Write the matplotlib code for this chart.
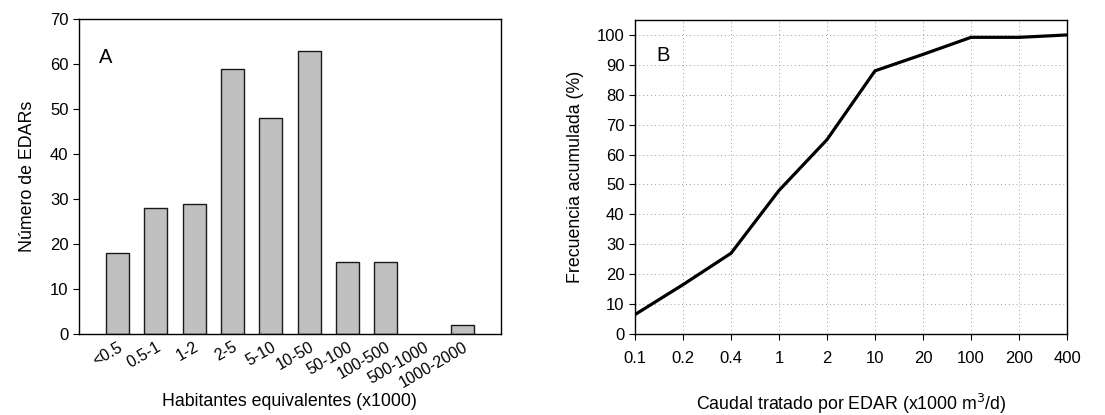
import matplotlib.pyplot as plt
import matplotlib.transforms as mtransforms
import numpy as np

plt.rcParams['font.family'] = ['Liberation Sans', 'DejaVu Sans']

# panel A
hab_labels = ["<0.5", "0.5-1", "1-2", "2-5", "5-10", "10-50", "50-100",
              "100-500", "500-1000", "1000-2000"]
n_edar = [18, 28, 29, 59, 48, 63, 16, 16, 0, 2]

# panel B
caudal_labels = ["0.1", "0.2", "0.4", "1", "2", "10", "20", "100", "200", "400"]
frec_acum = [6.5, 16.5, 27, 48, 65, 88, 93.5, 99.2, 99.2, 100]

fig = plt.figure(figsize=(11.05, 4.15), dpi=100)
W, H = 1105, 415

axA = fig.add_axes([79 / W, 1 - 334 / H, (500.7 - 79) / W, (334 - 19) / H])
x = np.arange(len(hab_labels))
vals = np.array(n_edar)
keep = vals > 0  # empty class is not drawn
axA.bar(x[keep], vals[keep], width=0.6, color="#c0c0c0", edgecolor="#1a1a1a", linewidth=1.0)
axA.set_xlim(-1, 10)
axA.set_ylim(0, 70)
axA.set_yticks(range(0, 71, 10))
axA.set_xticks(x)
axA.set_xticklabels(hab_labels, rotation=30, ha="right", rotation_mode="anchor")
offset = mtransforms.ScaledTranslation(8 / 72, 0, fig.dpi_scale_trans)
for lab in axA.get_xticklabels():
    lab.set_transform(lab.get_transform() + offset)
axA.tick_params(axis="x", length=0, pad=4, labelsize=11.5)
axA.tick_params(axis="y", direction="out", length=4, labelsize=12)
axA.set_ylabel("Número de EDARs", fontsize=12.8, labelpad=10)
axA.set_xlabel("Habitantes equivalentes (x1000)", fontsize=12.8, labelpad=2)
axA.text(0.047, 0.86, "A", transform=axA.transAxes, fontsize=14.5)
for s in axA.spines.values():
    s.set_linewidth(1.0)

axB = fig.add_axes([635 / W, 1 - 334 / H, (1067 - 635) / W, (334 - 20) / H])
xb = np.arange(len(caudal_labels))
axB.plot(xb, frec_acum, color="black", linewidth=2.3, solid_joinstyle="round")
axB.set_xlim(0, 9)
axB.set_ylim(0, 105)
axB.set_yticks(range(0, 101, 10))
axB.set_xticks(xb)
axB.set_xticklabels(caudal_labels)
axB.grid(True, linestyle=(0, (1, 3)), color="#a0a0a0", linewidth=0.7)
axB.tick_params(axis="both", direction="out", length=4, labelsize=12)
axB.tick_params(axis="x", pad=8)
axB.set_ylabel("Frecuencia acumulada (%)", fontsize=12.8, labelpad=9)
axB.set_xlabel("Caudal tratado por EDAR (x1000 m$^3$/d)", fontsize=12.8, labelpad=19)
axB.text(0.05, 0.87, "B", transform=axB.transAxes, fontsize=14.5)
for s in axB.spines.values():
    s.set_linewidth(1.0)

fig.savefig("out.png", dpi=100)
